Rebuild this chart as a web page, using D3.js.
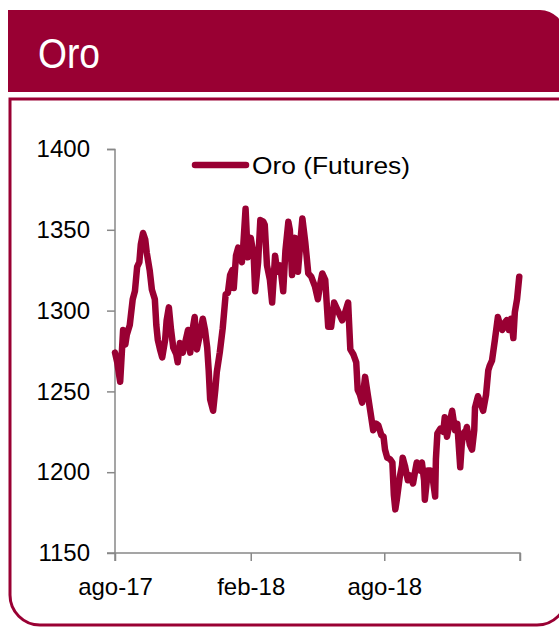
<!DOCTYPE html>
<html><head><meta charset="utf-8">
<script src="https://cdn.jsdelivr.net/npm/d3@7"></script>
<style>html,body{margin:0;padding:0;background:#fff;overflow:hidden}</style>
</head><body><svg id="c" width="559" height="628"></svg>
<script>
const title = "Oro";
const seriesName = "Oro (Futures)";
const dates = [
"2017-08-01","2017-08-04","2017-08-08","2017-08-12","2017-08-15","2017-08-17","2017-08-21","2017-08-25","2017-08-28","2017-08-31",
"2017-09-03","2017-09-05","2017-09-08","2017-09-11","2017-09-13","2017-09-17","2017-09-20","2017-09-24","2017-09-26","2017-09-28",
"2017-10-01","2017-10-04","2017-10-08","2017-10-10","2017-10-13","2017-10-16","2017-10-19","2017-10-23","2017-10-25","2017-10-28",
"2017-11-01","2017-11-05","2017-11-08","2017-11-11","2017-11-13","2017-11-17","2017-11-20","2017-11-24","2017-11-28","2017-12-01",
"2017-12-04","2017-12-06","2017-12-08","2017-12-12","2017-12-15","2017-12-17","2017-12-21","2017-12-25","2017-12-29","2018-01-01",
"2018-01-04","2018-01-07","2018-01-09","2018-01-12","2018-01-15","2018-01-17","2018-01-20","2018-01-22","2018-01-25","2018-01-28",
"2018-02-01","2018-02-05","2018-02-07","2018-02-11","2018-02-14","2018-02-18","2018-02-20","2018-02-23","2018-02-27","2018-03-02",
"2018-03-06","2018-03-09","2018-03-13","2018-03-17","2018-03-20","2018-03-24","2018-03-26","2018-03-29","2018-04-02","2018-04-06",
"2018-04-09","2018-04-12","2018-04-16","2018-04-20","2018-04-24","2018-04-29","2018-05-03","2018-05-06","2018-05-09","2018-05-13",
"2018-05-17","2018-05-21","2018-05-25","2018-05-30","2018-06-05","2018-06-09","2018-06-13","2018-06-16","2018-06-20","2018-06-24",
"2018-06-26","2018-06-29","2018-07-02","2018-07-06","2018-07-10","2018-07-13","2018-07-17","2018-07-21","2018-07-24","2018-07-28",
"2018-07-31","2018-08-02","2018-08-05","2018-08-09","2018-08-12","2018-08-14","2018-08-16","2018-08-18","2018-08-22","2018-08-25",
"2018-08-26","2018-08-29","2018-09-02","2018-09-05","2018-09-09","2018-09-12","2018-09-14","2018-09-19","2018-09-21","2018-09-24",
"2018-09-25","2018-09-28","2018-09-29","2018-10-03","2018-10-06","2018-10-09","2018-10-10","2018-10-12","2018-10-16","2018-10-20",
"2018-10-22","2018-10-25","2018-10-28","2018-11-01","2018-11-05","2018-11-08","2018-11-12","2018-11-14","2018-11-16","2018-11-20",
"2018-11-21","2018-11-25","2018-11-28","2018-12-01","2018-12-02","2018-12-06","2018-12-10","2018-12-13","2018-12-17","2018-12-20",
"2018-12-22","2018-12-25","2018-12-29","2019-01-02","2019-01-05","2019-01-08","2019-01-12","2019-01-14","2019-01-17","2019-01-20",
"2019-01-23","2019-01-25","2019-01-28","2019-01-31"
];
const values = [
1274,1268,1256,1288,1279,1285,1291,1307,1312,1327,
1330,1341,1348,1344,1336,1325,1313,1307,1291,1282,
1276,1271,1282,1294,1302,1288,1277,1273,1268,1280,
1274,1282,1288,1274,1285,1296,1276,1285,1295,1288,
1277,1263,1245,1238,1251,1262,1274,1289,1310,1311,
1322,1325,1314,1334,1339,1334,1330,1341,1363,1333,
1345,1334,1312,1330,1356,1355,1353,1328,1319,1305,
1334,1324,1328,1312,1337,1355,1350,1322,1345,1324,
1341,1357,1342,1323,1321,1315,1307,1316,1323,1319,
1290,1290,1305,1300,1294,1299,1305,1276,1273,1268,
1251,1248,1243,1259,1247,1238,1226,1230,1229,1223,
1222,1214,1209,1208,1206,1186,1177,1183,1197,1204,
1209,1204,1195,1198,1193,1201,1206,1201,1206,1195,
1183,1196,1201,1201,1195,1185,1208,1224,1227,1225,
1234,1222,1229,1238,1226,1230,1203,1217,1224,1226,
1228,1217,1214,1226,1240,1247,1242,1238,1248,1263,
1266,1269,1282,1296,1291,1288,1293,1294,1288,1295,
1283,1299,1307,1321
];
const yTicks = [1150, 1200, 1250, 1300, 1350, 1400];
const xTickDates = ["2017-08-01", "2018-02-01", "2018-08-01", "2019-02-01"];
const xTickLabels = ["ago-17", "feb-18", "ago-18", ""];

const RED = "#990033";
const FONT = "'Liberation Sans', Arial, sans-serif";
const parse = d3.timeParse("%Y-%m-%d");
const data = dates.map((d, i) => ({ date: parse(d), value: values[i] }));

const svg = d3.select("#c");
svg.append("rect").attr("width", 559).attr("height", 628).attr("fill", "#fff");

// header band
svg.append("path")
  .attr("d", "M8,10 H540 A25,25 0 0 1 565,35 V92 H8 Z")
  .attr("fill", RED);
svg.append("text").attr("x", 38).attr("y", 67.5)
  .attr("font-family", FONT).attr("font-size", 42).attr("fill", "#fff")
  .attr("textLength", 62).attr("lengthAdjust", "spacingAndGlyphs")
  .text(title);

// panel frame
svg.append("path")
  .attr("d", "M10,99 H567 V595 A30,30 0 0 1 537,625 H40 A30,30 0 0 1 10,595 Z")
  .attr("fill", "none").attr("stroke", RED).attr("stroke-width", 3);

const x = d3.scaleTime().domain([parse("2017-08-01"), parse("2019-02-01")]).range([115, 520]);
const y = d3.scaleLinear().domain([1150, 1400]).range([553, 149]);

const gy = svg.append("g").attr("transform", "translate(115,0)")
  .call(d3.axisLeft(y).tickValues(yTicks).tickSize(8).tickPadding(17).tickFormat(d3.format("d")));
const gx = svg.append("g").attr("transform", "translate(0,553)")
  .call(d3.axisBottom(x).tickValues(xTickDates.map(parse)).tickSize(8).tickPadding(17)
    .tickFormat((d, i) => xTickLabels[i]));
[gx, gy].forEach(g => {
  g.select(".domain").attr("stroke", "#888").attr("stroke-width", 1.5);
  g.selectAll(".tick line").attr("stroke", "#888").attr("stroke-width", 1.5);
  g.selectAll("text").attr("font-family", FONT).attr("font-size", 24).attr("fill", "#000");
});
gy.select(".domain").attr("d", "M-8,149.5H0V553H-8");
gx.select(".domain").attr("d", "M115,8V0H520V8");

// series line
svg.append("path").datum(data)
  .attr("fill", "none").attr("stroke", RED).attr("stroke-width", 6.5)
  .attr("stroke-linejoin", "round").attr("stroke-linecap", "round")
  .attr("d", d3.line().x(d => x(d.date)).y(d => y(d.value)));

// legend
svg.append("line").attr("x1", 195).attr("x2", 246).attr("y1", 165).attr("y2", 165)
  .attr("stroke", RED).attr("stroke-width", 6.5).attr("stroke-linecap", "round");
svg.append("text").attr("x", 252).attr("y", 174)
  .attr("font-family", FONT).attr("font-size", 24).attr("fill", "#000")
  .attr("textLength", 158).attr("lengthAdjust", "spacingAndGlyphs")
  .text(seriesName);
</script>
</body></html>
